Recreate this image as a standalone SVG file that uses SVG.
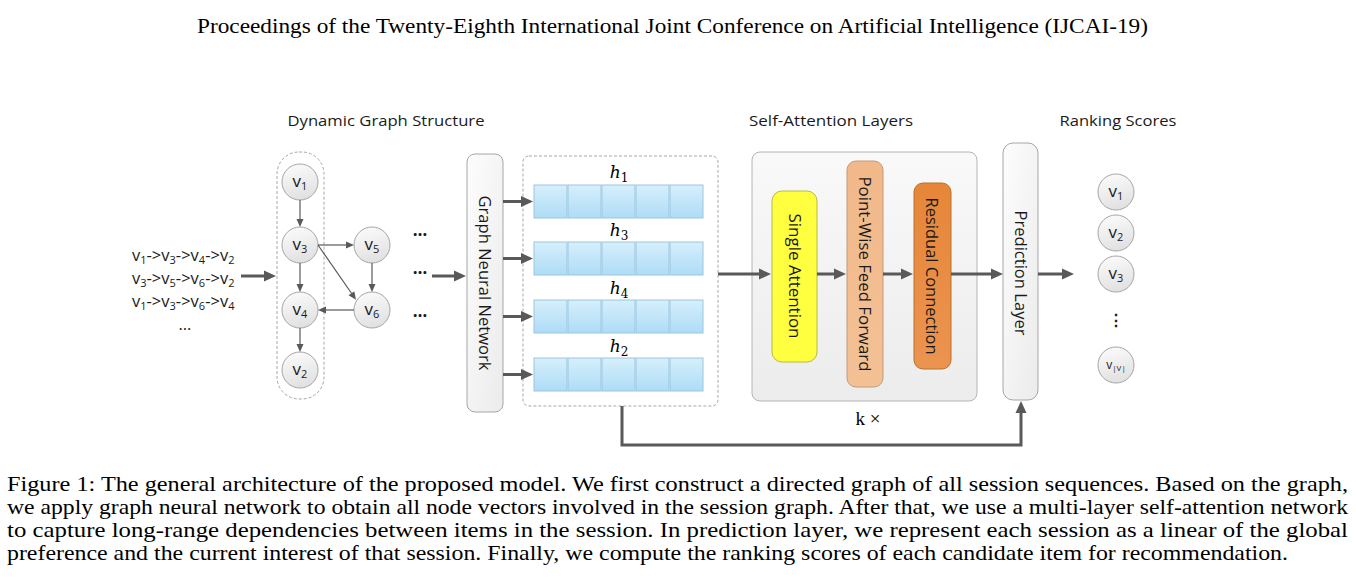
<svg xmlns="http://www.w3.org/2000/svg" width="1356" height="582" viewBox="0 0 1356 582">
<defs>
<style>
.sans{font-family:"Open Sans","Noto Sans","Liberation Sans",sans-serif;fill:#1a1a1a}
.lbl{font-size:15px;text-anchor:middle}
.serif{font-family:"Liberation Serif","DejaVu Serif",serif;fill:#000}
.node{fill:url(#cg);stroke:#a6a6a6;stroke-width:1}
.ntext{font-size:17px;text-anchor:middle}
.sub{font-size:11px}
.thin{stroke:#595959;stroke-width:1.2;fill:none;marker-end:url(#ah-thin)}
.thick{stroke:#595959;stroke-width:3;fill:none;marker-end:url(#ah)}
.dash{fill:none;stroke:#a6a6a6;stroke-width:1;stroke-dasharray:3,2}
.cell{fill:url(#cellg);stroke:#9cc6de;stroke-width:1}
.hl{font-family:"DejaVu Serif","Liberation Serif",serif;font-style:italic;font-size:17px;text-anchor:middle;fill:#000}
.vt{font-size:16px;text-anchor:middle;dominant-baseline:central}
.cap{font-size:22px}
</style>
<linearGradient id="cg" x1="0" y1="0" x2="0.3" y2="1"><stop offset="0" stop-color="#fdfdfd"/><stop offset="1" stop-color="#e2e2e2"/></linearGradient>
<linearGradient id="bg" x1="0" y1="0" x2="1" y2="1"><stop offset="0" stop-color="#fdfdfd"/><stop offset="1" stop-color="#ebebeb"/></linearGradient>
<linearGradient id="pg" x1="0" y1="0" x2="0" y2="1"><stop offset="0" stop-color="#f9f9f9"/><stop offset="1" stop-color="#ececec"/></linearGradient>
<linearGradient id="cellg" x1="0" y1="0" x2="0" y2="1"><stop offset="0" stop-color="#d6effc"/><stop offset="1" stop-color="#aedcf6"/></linearGradient>
<linearGradient id="pwg" x1="0" y1="0" x2="0" y2="1"><stop offset="0" stop-color="#f1b88a"/><stop offset="1" stop-color="#f3c195"/></linearGradient>
<linearGradient id="rcg" x1="0" y1="0" x2="0" y2="1"><stop offset="0" stop-color="#e68638"/><stop offset="1" stop-color="#eb9450"/></linearGradient>
<marker id="ah" markerUnits="userSpaceOnUse" markerWidth="12" markerHeight="12" viewBox="0 0 12 12" refX="1" refY="6" orient="auto"><path d="M0,0.5 L12,6 L0,11.5 z" fill="#595959"/></marker>
<marker id="ah-thin" markerUnits="userSpaceOnUse" markerWidth="8" markerHeight="8" viewBox="0 0 8 8" refX="1" refY="4" orient="auto"><path d="M0,0.5 L8,4 L0,7.5 z" fill="#595959"/></marker>
</defs>
<rect width="1356" height="582" fill="#fff"/>

<text class="serif" x="672.5" y="33" font-size="20" text-anchor="middle" textLength="951" lengthAdjust="spacingAndGlyphs">Proceedings of the Twenty-Eighth International Joint Conference on Artificial Intelligence (IJCAI-19)</text>

<g id="titles">
<text class="sans lbl" x="386" y="126" textLength="197" lengthAdjust="spacingAndGlyphs">Dynamic Graph Structure</text>
<text class="sans lbl" x="831" y="126" textLength="164" lengthAdjust="spacingAndGlyphs">Self-Attention Layers</text>
<text class="sans lbl" x="1118" y="126" textLength="117" lengthAdjust="spacingAndGlyphs">Ranking Scores</text>
</g>

<g id="sequences" class="sans" font-size="16.5">
<text x="132" y="261">v<tspan class="sub" dy="3">1</tspan><tspan dy="-3">-&gt;v</tspan><tspan class="sub" dy="3">3</tspan><tspan dy="-3">-&gt;v</tspan><tspan class="sub" dy="3">4</tspan><tspan dy="-3">-&gt;v</tspan><tspan class="sub" dy="3">2</tspan></text>
<text x="132" y="284">v<tspan class="sub" dy="3">3</tspan><tspan dy="-3">-&gt;v</tspan><tspan class="sub" dy="3">5</tspan><tspan dy="-3">-&gt;v</tspan><tspan class="sub" dy="3">6</tspan><tspan dy="-3">-&gt;v</tspan><tspan class="sub" dy="3">2</tspan></text>
<text x="132" y="307">v<tspan class="sub" dy="3">1</tspan><tspan dy="-3">-&gt;v</tspan><tspan class="sub" dy="3">3</tspan><tspan dy="-3">-&gt;v</tspan><tspan class="sub" dy="3">6</tspan><tspan dy="-3">-&gt;v</tspan><tspan class="sub" dy="3">4</tspan></text>
<text x="185" y="330" text-anchor="middle">…</text>
</g>

<g id="graph-frame"><rect class="dash" x="277" y="152" width="47" height="247" rx="22"/></g>

<g id="n-v1"><circle class="node" cx="300" cy="182" r="18"/><text class="sans ntext" x="300" y="187">v<tspan class="sub" dy="3">1</tspan></text></g>
<g id="n-v3"><circle class="node" cx="300" cy="245" r="18"/><text class="sans ntext" x="300" y="250">v<tspan class="sub" dy="3">3</tspan></text></g>
<g id="n-v4"><circle class="node" cx="300" cy="310" r="18"/><text class="sans ntext" x="300" y="315">v<tspan class="sub" dy="3">4</tspan></text></g>
<g id="n-v2"><circle class="node" cx="300" cy="370" r="18"/><text class="sans ntext" x="300" y="375">v<tspan class="sub" dy="3">2</tspan></text></g>
<g id="n-v5"><circle class="node" cx="372" cy="245" r="18"/><text class="sans ntext" x="372" y="250">v<tspan class="sub" dy="3">5</tspan></text></g>
<g id="n-v6"><circle class="node" cx="372" cy="310" r="18"/><text class="sans ntext" x="372" y="315">v<tspan class="sub" dy="3">6</tspan></text></g>

<g id="dots" class="sans" font-size="17" font-weight="bold">
<text x="420" y="236" text-anchor="middle">…</text>
<text x="420" y="274" text-anchor="middle">…</text>
<text x="420" y="317" text-anchor="middle">…</text>
</g>

<g id="gnn"><rect x="467" y="154" width="36" height="258" rx="8" fill="url(#bg)" stroke="#a6a6a6"/><text class="sans vt" transform="translate(485,283) rotate(90)" textLength="175" lengthAdjust="spacingAndGlyphs">Graph Neural Network</text></g>

<g id="vectors">
<rect class="dash" x="523" y="156" width="195" height="250" rx="6"/>
<g id="row-h1"><rect class="cell" x="534" y="185" width="33" height="33"/><rect class="cell" x="568" y="185" width="33" height="33"/><rect class="cell" x="602" y="185" width="33" height="33"/><rect class="cell" x="636" y="185" width="33" height="33"/><rect class="cell" x="670" y="185" width="33" height="33"/><text class="hl" x="619" y="178">h<tspan font-size="12" dy="4" font-style="normal">1</tspan></text></g>
<g id="row-h3"><rect class="cell" x="534" y="242" width="33" height="33"/><rect class="cell" x="568" y="242" width="33" height="33"/><rect class="cell" x="602" y="242" width="33" height="33"/><rect class="cell" x="636" y="242" width="33" height="33"/><rect class="cell" x="670" y="242" width="33" height="33"/><text class="hl" x="619" y="236">h<tspan font-size="12" dy="4" font-style="normal">3</tspan></text></g>
<g id="row-h4"><rect class="cell" x="534" y="300" width="33" height="33"/><rect class="cell" x="568" y="300" width="33" height="33"/><rect class="cell" x="602" y="300" width="33" height="33"/><rect class="cell" x="636" y="300" width="33" height="33"/><rect class="cell" x="670" y="300" width="33" height="33"/><text class="hl" x="619" y="294">h<tspan font-size="12" dy="4" font-style="normal">4</tspan></text></g>
<g id="row-h2"><rect class="cell" x="534" y="358" width="33" height="33"/><rect class="cell" x="568" y="358" width="33" height="33"/><rect class="cell" x="602" y="358" width="33" height="33"/><rect class="cell" x="636" y="358" width="33" height="33"/><rect class="cell" x="670" y="358" width="33" height="33"/><text class="hl" x="619" y="352">h<tspan font-size="12" dy="4" font-style="normal">2</tspan></text></g>
</g>

<g id="sa-panel"><rect x="752" y="152" width="225" height="249" rx="8" fill="url(#pg)" stroke="#b4b4b4"/><text class="serif" x="868" y="425" font-size="19" text-anchor="middle">k ×</text></g>
<g id="single-attention"><rect x="772" y="191" width="45" height="171" rx="10" fill="#ffff40" stroke="#b8b84a"/><text class="sans vt" transform="translate(795,276) rotate(90)" textLength="125" lengthAdjust="spacingAndGlyphs">Single Attention</text></g>
<g id="pwff"><rect x="847" y="161" width="36" height="226" rx="9" fill="url(#pwg)" stroke="#c4987a"/><text class="sans vt" transform="translate(865,274) rotate(90)" textLength="195" lengthAdjust="spacingAndGlyphs">Point-Wise Feed Forward</text></g>
<g id="residual"><rect x="914" y="183" width="37" height="186" rx="9" fill="url(#rcg)" stroke="#b8712e"/><text class="sans vt" transform="translate(932,276) rotate(90)" textLength="157" lengthAdjust="spacingAndGlyphs">Residual Connection</text></g>
<g id="prediction"><rect x="1003" y="143" width="35" height="257" rx="10" fill="url(#bg)" stroke="#a6a6a6"/><text class="sans vt" transform="translate(1021,273) rotate(90)" textLength="125" lengthAdjust="spacingAndGlyphs">Prediction Layer</text></g>

<g id="r-v1"><circle class="node" cx="1116" cy="192" r="18"/><text class="sans ntext" x="1116" y="197">v<tspan class="sub" dy="3">1</tspan></text></g>
<g id="r-v2"><circle class="node" cx="1116" cy="233" r="18"/><text class="sans ntext" x="1116" y="238">v<tspan class="sub" dy="3">2</tspan></text></g>
<g id="r-v3"><circle class="node" cx="1116" cy="274" r="18"/><text class="sans ntext" x="1116" y="279">v<tspan class="sub" dy="3">3</tspan></text></g>
<text class="sans" x="1116" y="326" font-size="16" font-weight="bold" text-anchor="middle" font-family="DejaVu Sans">⋮</text>
<g id="r-vV"><circle class="node" cx="1116" cy="365" r="18"/><text class="sans" x="1116" y="369" font-size="12" text-anchor="middle">v<tspan font-size="8" dy="2">|V|</tspan></text></g>

<g id="connectors">
<line class="thin" x1="300" y1="200" x2="300" y2="220"/>
<line class="thin" x1="300" y1="263" x2="300" y2="285"/>
<line class="thin" x1="300" y1="328" x2="300" y2="345"/>
<line class="thin" x1="318" y1="245" x2="347" y2="245"/>
<line class="thin" x1="372" y1="263" x2="372" y2="285"/>
<line class="thin" x1="354" y1="310" x2="325" y2="310"/>
<line class="thin" x1="318" y1="245" x2="352" y2="294"/>
<line class="thick" x1="241" y1="276" x2="265" y2="276"/>
<line class="thick" x1="432" y1="276" x2="455" y2="276"/>
<line class="thick" x1="503" y1="201.5" x2="522" y2="201.5"/>
<line class="thick" x1="503" y1="258.5" x2="522" y2="258.5"/>
<line class="thick" x1="503" y1="316.5" x2="522" y2="316.5"/>
<line class="thick" x1="503" y1="374.5" x2="522" y2="374.5"/>
<line class="thick" x1="718" y1="274" x2="760" y2="274"/>
<line class="thick" x1="817" y1="274" x2="835" y2="274"/>
<line class="thick" x1="883" y1="274" x2="902" y2="274"/>
<line class="thick" x1="951" y1="274" x2="992" y2="274"/>
<line class="thick" x1="1038" y1="274" x2="1063" y2="274"/>
<polyline class="thick" points="622,406 622,445 1021,445 1021,412"/>
</g>

<g id="caption" class="serif cap">
<text x="7" y="491" textLength="1341" lengthAdjust="spacingAndGlyphs">Figure 1: The general architecture of the proposed model. We first construct a directed graph of all session sequences. Based on the graph,</text>
<text x="7" y="514" textLength="1341" lengthAdjust="spacingAndGlyphs">we apply graph neural network to obtain all node vectors involved in the session graph. After that, we use a multi-layer self-attention network</text>
<text x="7" y="537" textLength="1341" lengthAdjust="spacingAndGlyphs">to capture long-range dependencies between items in the session. In prediction layer, we represent each session as a linear of the global</text>
<text x="7" y="560" textLength="1281" lengthAdjust="spacingAndGlyphs">preference and the current interest of that session. Finally, we compute the ranking scores of each candidate item for recommendation.</text>
</g>
</svg>
